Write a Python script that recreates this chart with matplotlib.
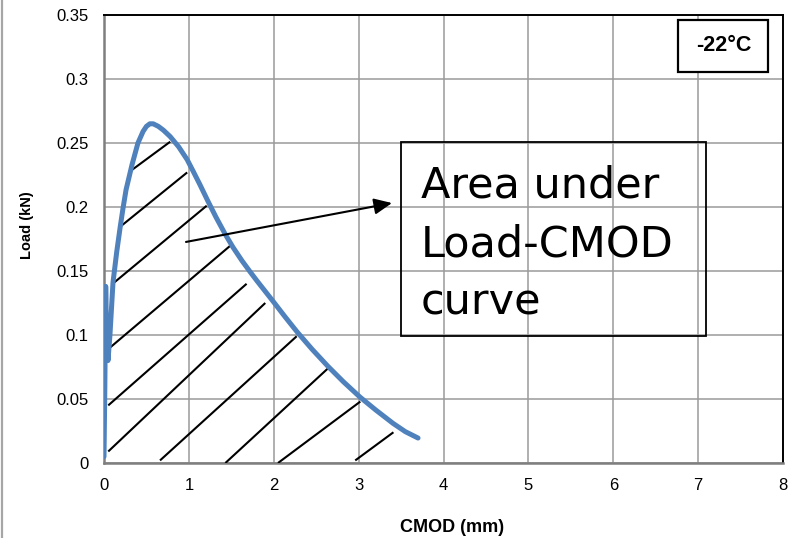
import numpy as np
import matplotlib.pyplot as plt
from matplotlib.patches import Rectangle
from matplotlib.lines import Line2D

# Load-CMOD curve
cmod = [0.0, 0.01, 0.02, 0.03, 0.047, 0.07, 0.106, 0.15, 0.19, 0.224, 0.26, 0.33,
        0.40, 0.46, 0.50, 0.54, 0.58, 0.64, 0.70, 0.78, 0.88, 0.98, 1.05, 1.13,
        1.225, 1.32, 1.426, 1.52, 1.626, 1.72, 1.80, 1.99, 2.13, 2.274, 2.45,
        2.639, 2.82, 3.016, 3.20, 3.405, 3.55, 3.70]
load = [0.005, 0.06, 0.138, 0.10, 0.080, 0.100, 0.141, 0.165, 0.184, 0.199, 0.2135,
        0.233, 0.250, 0.259, 0.263, 0.265, 0.265, 0.263, 0.260, 0.255, 0.247,
        0.237, 0.228, 0.2175, 0.2045, 0.192, 0.179, 0.1685, 0.158, 0.1495, 0.1425,
        0.1265, 0.1145, 0.1025, 0.089, 0.0755, 0.0635, 0.0515, 0.0415, 0.031, 0.0245,
        0.0195]

# hand drawn hatching under the curve (start x, start y, end x, end y)
hatch_x0 = [0.33, 0.18, 0.12, 0.05, 0.05, 0.05, 0.66, 1.43, 2.05, 2.96]
hatch_y0 = [0.229, 0.184, 0.141, 0.089, 0.045, 0.009, 0.002, 0.0, 0.0, 0.002]
hatch_x1 = [0.78, 0.98, 1.21, 1.51, 1.68, 1.90, 2.27, 2.64, 3.02, 3.41]
hatch_y1 = [0.251, 0.227, 0.201, 0.171, 0.140, 0.125, 0.099, 0.074, 0.048, 0.024]

arrow_from = (0.966, 0.1727)
arrow_to = (3.393, 0.2031)

box_lines = ['Area under', 'Load-CMOD', 'curve']
temp_label = '-22°C'

xticks = np.arange(0, 9, 1)
yticks = np.arange(0, 0.36, 0.05)
ytick_labels = ['0', '0.05', '0.1', '0.15', '0.2', '0.25', '0.3', '0.35']

plt.rcParams['font.family'] = ['Liberation Sans', 'DejaVu Sans']

fig = plt.figure(figsize=(7.93, 5.38), dpi=100)
ax = fig.add_axes([104/793, 75/538, 679/793, 448/538])

ax.set_xlim(0, 8)
ax.set_ylim(0, 0.35)
ax.set_xticks(xticks)
ax.set_yticks(yticks)
ax.set_yticklabels(ytick_labels)
ax.tick_params(length=0, labelsize=12, pad=11, colors='black')
ax.grid(True, color='#9a9a9a', lw=1.1)
ax.set_axisbelow(True)

for s in ['left', 'bottom']:
    ax.spines[s].set_color('#7f7f7f')
    ax.spines[s].set_linewidth(1.8)
for s in ['top', 'right']:
    ax.spines[s].set_color('black')
    ax.spines[s].set_linewidth(1.4)

# hatching
for i in range(len(hatch_x0)):
    ax.plot([hatch_x0[i], hatch_x1[i]], [hatch_y0[i], hatch_y1[i]],
            color='black', lw=1.5, solid_capstyle='butt', zorder=3)

# curve
ax.plot(cmod, load, color='#4f81bd', lw=3.6, solid_joinstyle='round',
        solid_capstyle='round', zorder=4)

# arrow
ax.annotate('', xy=arrow_to, xytext=arrow_from,
            arrowprops=dict(arrowstyle='-|>,head_length=0.4,head_width=0.18',
                            color='black', lw=1.5, mutation_scale=27,
                            shrinkA=0, shrinkB=0), zorder=5)

# text box
ax.add_patch(Rectangle((0.437, 0.2835), 0.45, 0.433, transform=ax.transAxes,
                       fill=False, edgecolor='black', lw=1.3, zorder=5))
baselines = [198, 256.7, 313.3]
for txt, yb in zip(box_lines, baselines):
    ax.text(0.4669, (463 - yb) / 448, txt, transform=ax.transAxes,
            fontsize=31, family='DejaVu Sans', va='baseline', ha='left', zorder=6)

# temperature box
ax.add_patch(Rectangle((0.8454, 0.8728), 0.1326, 0.1162, transform=ax.transAxes,
                       facecolor='white', edgecolor='black', lw=1.6, zorder=5))
ax.text(0.9125, 0.931, temp_label, transform=ax.transAxes, fontsize=15.5,
        fontweight='bold', ha='center', va='center', zorder=6)

fig.text(452/793, 1 - 527/538, 'CMOD (mm)', fontsize=13, fontweight='bold',
         ha='center', va='center')
fig.text(27/793, 1 - 225/538, 'Load (kN)', fontsize=10.5, fontweight='bold',
         ha='center', va='center', rotation=90)

# grey border at the left edge of the picture
fig.add_artist(Line2D([2/793, 2/793], [0, 1], transform=fig.transFigure,
                      color='#a6a6a6', lw=1.6))

fig.savefig('out.png', dpi=100)
